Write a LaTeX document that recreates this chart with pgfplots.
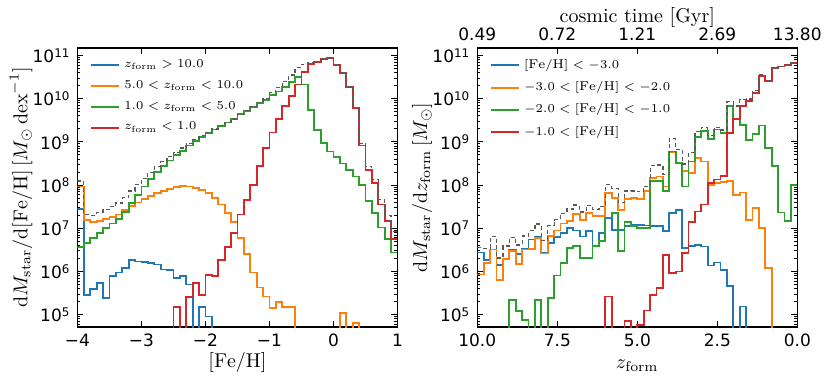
\documentclass[border=0pt]{standalone}
\usepackage{fontspec}
\newfontfamily\dejavu{DejaVu Sans}
\usepackage{pgfplots}
\pgfplotsset{compat=1.18}
\usepackage{pgfplotstable}

\definecolor{cblue}{HTML}{1F77B4}
\definecolor{corange}{HTML}{FF7F0E}
\definecolor{cgreen}{HTML}{2CA02C}
\definecolor{cred}{HTML}{D62728}

% left panel: bin left edge in [Fe/H], then mass per bin (1 = empty bin)
\pgfplotstableread{
x    b       o       g       r       t
-4.0 2.82e7  9.33e7  3.72e6  1       1.25e8
-3.9 2.88e5  1.58e7  4.68e6  1       2.08e7
-3.8 3.98e5  1.38e7  6.03e6  1       2.02e7
-3.7 5.37e5  1.51e7  7.76e6  1       2.34e7
-3.6 2.45e5  1.66e7  1.00e7  1       2.68e7
-3.5 7.76e5  1.82e7  1.29e7  1       3.19e7
-3.4 9.55e5  2.09e7  1.66e7  1       3.85e7
-3.3 1.20e6  2.63e7  2.40e7  1       5.15e7
-3.2 1.86e6  3.31e7  3.80e7  1       7.30e7
-3.1 1.70e6  3.98e7  6.03e7  1       1.02e8
-3.0 1.66e6  4.79e7  9.33e7  1       1.43e8
-2.9 1.58e6  5.62e7  1.38e8  1       1.96e8
-2.8 1.45e6  6.46e7  2.00e8  1       2.66e8
-2.7 1.12e6  7.41e7  2.75e8  1       3.50e8
-2.6 1.07e6  8.32e7  3.72e8  1       4.56e8
-2.5 7.08e5  9.12e7  4.90e8  1.51e5  5.82e8
-2.4 7.94e5  9.55e7  6.31e8  1       7.27e8
-2.3 5.01e5  9.33e7  8.32e8  2.57e5  9.26e8
-2.2 1       8.51e7  1.05e9  5.37e5  1.14e9
-2.1 1.51e5  7.59e7  1.32e9  2.88e5  1.40e9
-2.0 9.12e4  6.61e7  1.62e9  8.32e5  1.69e9
-1.9 1       5.01e7  1.95e9  7.94e5  2.00e9
-1.8 1       3.55e7  2.34e9  1.82e6  2.38e9
-1.7 1       2.29e7  2.82e9  3.72e6  2.85e9
-1.6 1       1.38e7  3.39e9  7.76e6  3.41e9
-1.5 1       6.03e6  4.37e9  2.09e7  4.40e9
-1.4 1       2.57e6  5.25e9  4.47e7  5.30e9
-1.3 1       9.55e5  6.46e9  1.02e8  6.56e9
-1.2 1       4.27e5  7.94e9  2.75e8  8.22e9
-1.1 1       2.63e5  9.55e9  7.24e8  1.03e10
-1.0 1       1.41e5  1.20e10 1.66e9  1.37e10
-0.9 1       1.95e5  1.48e10 3.39e9  1.82e10
-0.8 1       1.51e5  1.86e10 6.76e9  2.54e10
-0.7 1       1.51e5  2.40e10 1.17e10 3.57e10
-0.6 1       1       3.24e10 2.14e10 5.38e10
-0.5 1       1       2.14e10 4.17e10 6.31e10
-0.4 1       1       5.62e9  6.46e10 7.02e10
-0.3 1       1       1.86e9  7.08e10 7.27e10
-0.2 1       1       9.55e8  8.51e10 8.61e10
-0.1 1       1       6.03e8  8.71e10 8.77e10
0.0  1       1       4.47e8  6.17e10 6.21e10
0.1  1       1.10e5  3.16e8  3.98e10 4.01e10
0.2  1       1       2.29e8  1.86e10 1.88e10
0.3  1       6.46e4  1.58e8  6.17e9  6.33e9
0.4  1       1       1.00e8  8.32e8  9.32e8
0.5  1       1       4.37e7  2.29e8  2.73e8
0.6  1       1       2.29e7  1.12e8  1.35e8
0.7  1       1       1.05e7  3.55e7  4.60e7
0.8  1       1       5.62e6  1.45e7  2.01e7
0.9  1       1       2.75e6  5.75e6  8.50e6
1.0  1       1       2.75e6  5.75e6  8.50e6
}\fehtab

% right panel: bin upper edge in z_form, then mass per bin (1 = empty bin)
\pgfplotstableread{
x    b       o       g       r       t
10.0 2.75e6  8.51e5  1       1       3.60e6
9.8  1.86e6  1.58e6  1       1       3.44e6
9.6  3.24e6  3.24e6  1       1       6.48e6
9.4  1.41e6  6.46e5  1       1       2.06e6
9.2  1.95e6  1.95e6  1       1       3.90e6
9.0  3.09e6  2.95e6  2.24e5  1       6.26e6
8.8  2.51e6  1.51e6  1.20e5  1       4.14e6
8.6  3.31e6  3.24e6  7.41e4  1       6.62e6
8.4  5.50e6  3.31e6  1       1       8.81e6
8.2  6.31e6  6.03e6  2.24e5  1       1.26e7
8.0  2.69e6  2.63e6  1       1       5.32e6
7.8  4.68e6  6.61e6  2.45e5  1       1.15e7
7.6  6.31e6  8.91e6  8.13e5  1       1.60e7
7.4  7.94e6  1.29e7  1.58e6  1       2.24e7
7.2  1.00e7  1.45e7  3.47e6  1       2.80e7
7.0  8.91e6  2.19e7  3.89e6  1       3.47e7
6.8  6.46e6  1.55e7  2.04e6  1       2.40e7
6.6  8.51e6  2.29e7  2.04e6  1       3.35e7
6.4  3.80e6  1.91e7  3.98e6  1       2.69e7
6.2  7.94e6  1.91e7  5.01e6  1       3.21e7
6.0  1.74e7  6.61e7  1.78e7  2.63e5  1.02e8
5.8  9.33e6  5.01e7  2.29e7  1       8.23e7
5.6  9.33e6  2.69e7  2.95e6  1       3.92e7
5.4  1.12e7  4.79e7  1.41e7  7.24e4  7.33e7
5.2  1.23e7  5.01e7  1.12e7  1       7.36e7
5.0  1.20e7  4.79e7  1.00e7  5.89e4  6.99e7
4.8  1.17e7  7.24e7  1.00e7  1.26e5  9.42e7
4.6  1.12e7  1.48e8  1.23e8  2.88e5  2.82e8
4.4  1.12e7  1.58e8  1.23e8  4.17e5  2.93e8
4.2  8.51e6  9.33e7  7.24e7  2.45e6  1.77e8
4.0  2.29e7  5.75e8  6.03e8  9.33e5  1.20e9
3.8  2.63e7  3.24e8  3.24e8  1.00e6  6.75e8
3.6  3.47e6  2.09e8  9.33e7  2.69e6  3.08e8
3.4  3.98e6  1.91e8  3.55e8  1.38e7  5.64e8
3.2  4.17e6  4.27e8  1.32e9  2.45e7  1.78e9
3.0  3.80e6  3.55e8  1.78e9  3.55e7  2.17e9
2.8  1.38e6  1.02e8  1.17e9  1.12e8  1.39e9
2.6  1.62e6  1.12e8  1.95e9  1.35e8  2.20e9
2.4  1.10e6  1.17e8  1.62e9  1.66e8  1.90e9
2.2  4.68e5  1.23e8  6.76e9  1.62e9  8.50e9
2.0  1       6.03e7  3.39e9  3.39e9  6.84e9
1.8  1.55e5  6.76e7  2.51e9  6.92e9  9.50e9
1.6  1       1.58e7  1.12e9  8.71e9  9.85e9
1.4  1       2.95e7  1.55e9  1.38e10 1.54e10
1.2  1       1.02e7  2.40e9  3.31e10 3.55e10
1.0  1       1.20e6  7.24e8  2.57e10 2.64e10
0.8  1       1       2.75e8  5.13e10 5.16e10
0.6  1       1       2.34e7  5.62e10 5.62e10
0.4  1       1       1.45e7  6.17e10 6.17e10
0.2  1       1       1.00e8  6.76e10 6.77e10
0.0  1       1       1.00e8  6.76e10 6.77e10
}\ztab

\pgfplotsset{
  every axis/.append style={
    scale only axis, width=160pt, height=139.5pt, anchor=south west,
    tick align=inside,
    major tick length=3pt, minor tick length=1.5pt,
    every tick/.style={black, line width=0.5pt},
    axis line style={line width=0.6pt},
    tick label style={font=\dejavu\fontsize{8.5}{10}\selectfont},
    label style={font=\fontsize{10}{12}\selectfont},
    legend style={at={(axis description cs:0,1)}, anchor=north west,
      xshift=3pt, yshift=-1.5pt, draw=none, fill=none,
      font=\fontsize{6.4}{7.6}\selectfont, row sep=1.1pt,
      cells={anchor=west}},
    legend image code/.code={\draw[##1, line width=1pt] (0pt,0pt) -- (14.2pt,0pt);},
  },
  hstep/.style={const plot, no marks, line width=0.9pt},
  htot/.style={const plot, no marks, line width=0.6pt, black!65,
    dash pattern=on 2pt off 1.4pt},
}

\begin{document}
\begin{tikzpicture}
\useasboundingbox (0,0) rectangle (415pt,190.5pt);

\begin{axis}[at={(38.75pt,27pt)},
  ymode=log, ymin=5.2e4, ymax=1.5e11,
  ytick={1e5,1e6,1e7,1e8,1e9,1e10,1e11},
  yticklabels={10\textsuperscript{5},10\textsuperscript{6},10\textsuperscript{7},10\textsuperscript{8},10\textsuperscript{9},10\textsuperscript{10},10\textsuperscript{11}},
  minor ytick={6e4,7e4,8e4,9e4,2e5,3e5,4e5,5e5,6e5,7e5,8e5,9e5,2e6,3e6,4e6,5e6,6e6,7e6,8e6,9e6,2e7,3e7,4e7,5e7,6e7,7e7,8e7,9e7,2e8,3e8,4e8,5e8,6e8,7e8,8e8,9e8,2e9,3e9,4e9,5e9,6e9,7e9,8e9,9e9,2e10,3e10,4e10,5e10,6e10,7e10,8e10,9e10},
  ytick pos=both,
  xmin=-4, xmax=1, xtick={-4,-3,-2,-1,0,1},
  xticklabels={−4,−3,−2,−1,0,1}, xtick pos=both,
  xlabel={$[\mathrm{Fe/H}]$},
  xlabel style={at={(axis description cs:0.5,-0.127)}, anchor=center},
  ylabel={$\mathrm{d}M_{\mathrm{star}}/\mathrm{d[Fe/H]}\,[M_{\odot}\,\mathrm{dex}^{-1}]$},
  ylabel style={at={(axis description cs:-0.1766,0.5)}, anchor=center}]
\addplot[hstep, cblue] table[x=x, y=b] {\fehtab};
\addlegendentry{$z_{\mathrm{form}} > 10.0$}
\addplot[hstep, corange] table[x=x, y=o] {\fehtab};
\addlegendentry{$5.0 < z_{\mathrm{form}} < 10.0$}
\addplot[hstep, cgreen] table[x=x, y=g] {\fehtab};
\addlegendentry{$1.0 < z_{\mathrm{form}} < 5.0$}
\addplot[hstep, cred] table[x=x, y=r] {\fehtab};
\addlegendentry{$z_{\mathrm{form}} < 1.0$}
\addplot[htot, forget plot] table[x=x, y=t] {\fehtab};
\end{axis}

\begin{axis}[at={(238.65pt,27pt)},
  ymode=log, ymin=5.2e4, ymax=1.5e11,
  ytick={1e5,1e6,1e7,1e8,1e9,1e10,1e11},
  yticklabels={10\textsuperscript{5},10\textsuperscript{6},10\textsuperscript{7},10\textsuperscript{8},10\textsuperscript{9},10\textsuperscript{10},10\textsuperscript{11}},
  minor ytick={6e4,7e4,8e4,9e4,2e5,3e5,4e5,5e5,6e5,7e5,8e5,9e5,2e6,3e6,4e6,5e6,6e6,7e6,8e6,9e6,2e7,3e7,4e7,5e7,6e7,7e7,8e7,9e7,2e8,3e8,4e8,5e8,6e8,7e8,8e8,9e8,2e9,3e9,4e9,5e9,6e9,7e9,8e9,9e9,2e10,3e10,4e10,5e10,6e10,7e10,8e10,9e10},
  ytick pos=both,
  xmin=0, xmax=10, x dir=reverse, xtick={0,2.5,5,7.5,10},
  xticklabels={0.0,2.5,5.0,7.5,10.0}, xtick pos=left,
  xlabel={$z_{\mathrm{form}}$},
  xlabel style={at={(axis description cs:0.5,-0.14)}, anchor=center},
  ylabel={$\mathrm{d}M_{\mathrm{star}}/\mathrm{d}z_{\mathrm{form}}\,[M_{\odot}]$},
  ylabel style={at={(axis description cs:-0.1728,0.5)}, anchor=center}]
\addplot[hstep, cblue] table[x=x, y=b] {\ztab};
\addlegendentry{$[\mathrm{Fe/H}] < -3.0$}
\addplot[hstep, corange] table[x=x, y=o] {\ztab};
\addlegendentry{$-3.0 < [\mathrm{Fe/H}] < -2.0$}
\addplot[hstep, cgreen] table[x=x, y=g] {\ztab};
\addlegendentry{$-2.0 < [\mathrm{Fe/H}] < -1.0$}
\addplot[hstep, cred] table[x=x, y=r] {\ztab};
\addlegendentry{$-1.0 < [\mathrm{Fe/H}]$}
\addplot[htot, forget plot] table[x=x, y=t] {\ztab};
\end{axis}

% cosmic time along the top of the right panel
\begin{axis}[at={(238.65pt,27pt)},
  xmin=0, xmax=10, x dir=reverse, ymin=0, ymax=1,
  axis x line*=top, hide y axis, axis line style={-, line width=0.6pt},
  xtick={0,2.5,5,7.5,10}, xticklabels={13.80,2.69,1.21,0.72,0.49},
  xlabel={cosmic time $[\mathrm{Gyr}]$},
  xlabel style={at={(axis description cs:0.5,1.1093)}, anchor=center}]
\end{axis}
\end{tikzpicture}
\end{document}
